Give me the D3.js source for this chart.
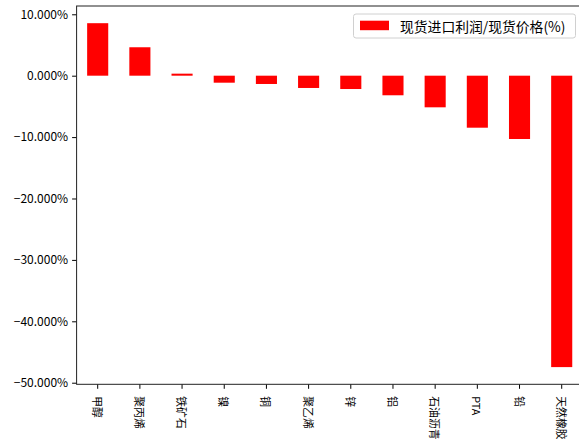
<html>
<head>
<meta charset="utf-8">
<script src="https://d3js.org/d3.v7.min.js"></script>
<style>
  body { margin: 0; background: #fff; }
  text { font-family: "Noto Sans CJK SC", "DejaVu Sans", sans-serif; fill: #000; }
</style>
</head>
<body>
<script>
// chart data
var categories = ["甲醇", "聚丙烯", "铁矿石", "镍", "铜", "聚乙烯", "锌", "铝", "石油沥青", "PTA", "铅", "天然橡胶"];
var values = [8.55, 4.63, 0.33, -1.14, -1.35, -2.0, -2.17, -3.19, -5.15, -8.47, -10.31, -47.46];
var yTicks = [10, 0, -10, -20, -30, -40, -50];
var legendLabel = "现货进口利润/现货价格(%)";

var width = 579, height = 445;
// plot frame (right edge falls just past the picture, like the original crop)
var frame = {left: 76.6, right: 582.8, top: 6, bottom: 384.3};

var svg = d3.select("body").append("svg")
    .attr("width", width)
    .attr("height", height);

var x = d3.scaleBand()
    .domain(categories)
    .range([frame.left, frame.right])
    .paddingInner(0.5)
    .paddingOuter(0.25);

var y = d3.scaleLinear()
    .domain([-50.26, 11.35])
    .range([frame.bottom, frame.top]);

// bars
svg.selectAll("rect.bar").data(values).enter()
    .append("rect")
    .attr("class", "bar")
    .attr("x", function(d, i) { return x(categories[i]); })
    .attr("width", x.bandwidth())
    .attr("y", function(d) { return y(Math.max(d, 0)); })
    .attr("height", function(d) { return Math.abs(y(d) - y(0)); })
    .attr("fill", "#ff0000");

// y axis
var yAxis = d3.axisLeft(y)
    .tickValues(yTicks)
    .tickSizeInner(4.5)
    .tickSizeOuter(0)
    .tickPadding(4)
    .tickFormat(function(d) { return d3.format(".3f")(d).replace("-", "\u2212") + "%"; });

var gy = svg.append("g")
    .attr("transform", "translate(" + frame.left + ",0)")
    .call(yAxis);
gy.select(".domain").remove();
gy.selectAll("line").attr("stroke", "#000");
gy.selectAll("text").style("font-size", "12px").attr("fill", "#222");

// x axis
var xAxis = d3.axisBottom(x)
    .tickSizeInner(4.5)
    .tickSizeOuter(0)
    .tickPadding(6);

var gx = svg.append("g")
    .attr("transform", "translate(0," + frame.bottom + ")")
    .call(xAxis);
gx.select(".domain").remove();
gx.selectAll("line").attr("stroke", "#000");
// rotate labels so they read downward
gx.selectAll("text")
    .style("font-size", "10.8px")
    .attr("fill", "#222")
    .attr("text-anchor", "start")
    .attr("dy", null)
    .attr("dominant-baseline", "central")
    .attr("transform", "translate(0,12) rotate(90)")
    .attr("y", 0)
    .attr("x", 0);

// frame
svg.append("rect")
    .attr("x", frame.left)
    .attr("y", frame.top)
    .attr("width", frame.right - frame.left)
    .attr("height", frame.bottom - frame.top)
    .attr("fill", "none")
    .attr("stroke", "#222")
    .attr("stroke-width", 1);

// legend
var legend = svg.append("g");
legend.append("rect")
    .attr("x", 353.5).attr("y", 14)
    .attr("width", 222).attr("height", 24)
    .attr("rx", 2.5)
    .attr("fill", "#fff")
    .attr("fill-opacity", 0.8)
    .attr("stroke", "#d0d0d0");
legend.append("rect")
    .attr("x", 360).attr("y", 20.7)
    .attr("width", 29).attr("height", 9.5)
    .attr("fill", "#ff0000");
legend.append("text")
    .attr("x", 400).attr("y", 26)
    .attr("dominant-baseline", "central")
    .style("font-size", "13.8px")
    .attr("fill", "#222")
    .text(legendLabel);
</script>
</body>
</html>
